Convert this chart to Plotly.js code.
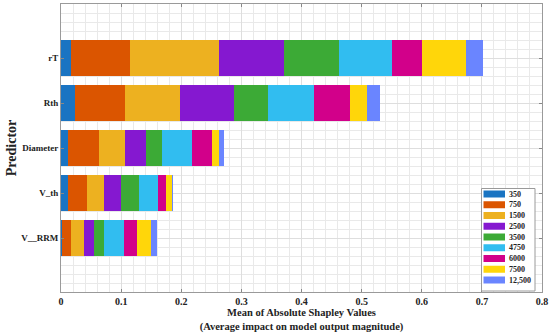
<!DOCTYPE html>
<html>
<head>
<meta charset="utf-8">
<script src="https://cdn.plot.ly/plotly-3.0.1.min.js"></script>
<style>html,body{margin:0;padding:0;background:#fff;}#chart{width:550px;height:336px;}</style>
</head>
<body>
<div id="chart"></div>
<script>
// Predictors, top to bottom
const predictors = ['rT', 'Rth', 'Diameter', 'V_th', 'V__RRM'];
// Series (legend entries)
const seriesNames = ['350', '750', '1500', '2500', '3500', '4750', '6000', '7500', '12,500'];
const seriesColors = ['#1A74C2', '#DB5500', '#EDB120', '#8518D0', '#3CAA36', '#31BDF0', '#D2008A', '#FFD60A', '#6A85FF'];
// Mean |SHAP| per predictor (same order as predictors)
const v350   = [0.017, 0.024, 0.012, 0.011, 0.002];
const v750   = [0.097, 0.083, 0.051, 0.033, 0.015];
const v1500  = [0.148, 0.091, 0.043, 0.028, 0.022];
const v2500  = [0.109, 0.089, 0.035, 0.027, 0.016];
const v3500  = [0.092, 0.058, 0.027, 0.030, 0.017];
const v4750  = [0.088, 0.076, 0.050, 0.033, 0.032];
const v6000  = [0.050, 0.060, 0.033, 0.013, 0.023];
const v7500  = [0.073, 0.028, 0.012, 0.009, 0.023];
const v12500 = [0.028, 0.021, 0.008, 0.003, 0.010];
const xTickVals = [0, 0.1, 0.2, 0.3, 0.4, 0.5, 0.6, 0.7, 0.8];
const xTickText = ['0', '0.1', '0.2', '0.3', '0.4', '0.5', '0.6', '0.7', '0.8'];

const seriesValues = [v350, v750, v1500, v2500, v3500, v4750, v6000, v7500, v12500];
const yPos = predictors.map((p, i) => predictors.length - i);

const FONT = 'Liberation Serif, Times New Roman, serif';
const traces = seriesNames.map((name, k) => ({
  type: 'bar',
  orientation: 'h',
  name: name,
  x: seriesValues[k],
  y: yPos,
  width: 0.8,
  marker: {color: seriesColors[k], line: {width: 0}},
  showlegend: false,
  hoverinfo: 'x+name'
}));

// plot geometry in pixels (for custom legend placement)
const L = 61, R = 8, T = 4, B = 44, W = 550, H = 336;
const pw = W - L - R, ph = H - T - B;
const px = x => (x - L) / pw;
const py = y => (H - B - y) / ph;

const shapes = [];
const annotations = [];
const legX0 = 481.5, legX1 = 535, legY0 = 188.5, legY1 = 291;
shapes.push({type: 'rect', xref: 'paper', yref: 'paper', x0: px(legX0), x1: px(legX1), y0: py(legY1), y1: py(legY0),
  fillcolor: '#ffffff', line: {color: '#9a9a9a', width: 1}, layer: 'above'});
seriesNames.forEach((name, i) => {
  const cy = 194 + i * 10.75;
  shapes.push({type: 'rect', xref: 'paper', yref: 'paper', x0: px(483.5), x1: px(505), y0: py(cy + 3.5), y1: py(cy - 3.5),
    fillcolor: seriesColors[i], line: {width: 0}, layer: 'above'});
  annotations.push({xref: 'paper', yref: 'paper', x: px(506.5), y: py(cy), xanchor: 'left', yanchor: 'middle',
    text: name, showarrow: false, font: {family: FONT, size: 8, weight: 'bold', color: '#222'}});
});

const layout = {
  width: W, height: H,
  margin: {l: L, r: R, t: T, b: B, pad: 0},
  paper_bgcolor: '#ffffff', plot_bgcolor: '#ffffff',
  barmode: 'stack', bargap: 0,
  showlegend: false,
  font: {family: FONT, color: '#222', weight: 'bold'},
  xaxis: {
    range: [0, 0.8], tickmode: 'array', tickvals: xTickVals, ticktext: xTickText,
    ticks: 'inside', ticklen: 3, tickcolor: '#888', mirror: 'ticks',
    showline: true, linecolor: '#9a9a9a', linewidth: 1,
    showgrid: true, gridcolor: '#dedede', gridwidth: 1, zeroline: false,
    minor: {tick0: 0, dtick: 0.02, showgrid: true, gridcolor: '#e9e9e9', ticks: ''},
    tickfont: {family: FONT, size: 10, weight: 'bold', color: '#222'},
    title: {text: 'Mean of Absolute Shapley Values<br>(Average impact on model output magnitude)',
      font: {family: FONT, size: 10.5, weight: 'bold', color: '#222'}, standoff: 2}
  },
  yaxis: {
    range: [-0.2, 6.2], tickmode: 'array', tickvals: yPos, ticktext: predictors,
    ticks: 'inside', ticklen: 3, tickcolor: '#888', mirror: 'ticks',
    showline: true, linecolor: '#9a9a9a', linewidth: 1,
    showgrid: true, gridcolor: '#dedede', gridwidth: 1, zeroline: false,
    minor: {tick0: 0, dtick: 0.2, showgrid: true, gridcolor: '#e9e9e9', ticks: ''},
    tickfont: {family: FONT, size: 9, weight: 'bold', color: '#222'},
    title: {text: 'Predictor', font: {family: FONT, size: 14, weight: 'bold', color: '#222'}, standoff: 1}
  },
  shapes: shapes,
  annotations: annotations
};

Plotly.newPlot('chart', traces, layout, {displayModeBar: false, staticPlot: true});
</script>
</body>
</html>
